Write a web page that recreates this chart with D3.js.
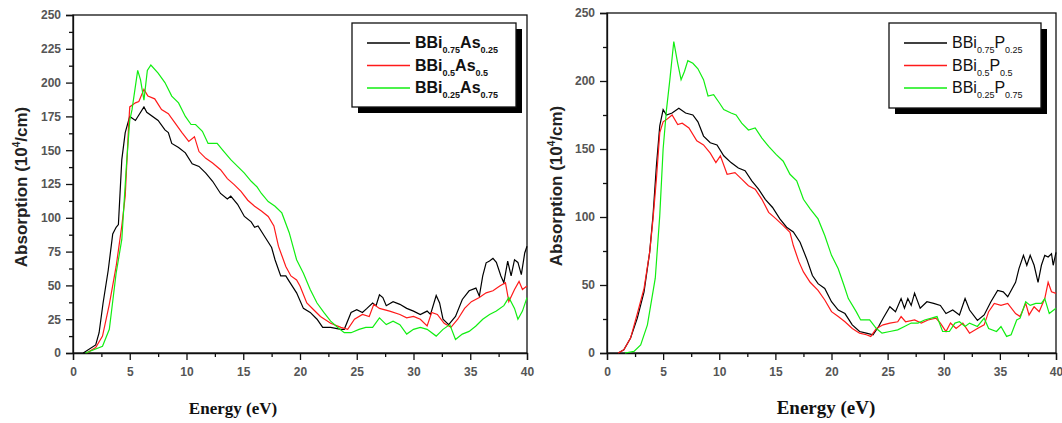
<!DOCTYPE html>
<html>
<head>
<meta charset="utf-8">
<script src="https://cdn.jsdelivr.net/npm/d3@7"></script>
<style>
  body { margin: 0; background: #fff; }
  svg { display: block; }
</style>
</head>
<body>
<div id="chart"></div>
<script>
// ---- left panel: BBi(1-x)As(x) ----
const eL_black = [0.9,2,2.3,2.65,3.1,3.5,3.8,4,4.3,4.6,4.9,5,5.5,6.25,6.5,7.5,8.1,8.4,8.7,9.3,9.9,10.5,11.1,11.7,12.3,13,13.6,13.9,14.5,15.1,15.7,16,16.3,16.9,17.5,17.8,18.3,18.75,19.05,19.7,20.3,20.9,21.5,22,22.7,23.6,23.9,24.5,25,25.5,25.9,26.4,26.7,27,27.3,27.6,28.2,28.8,29.4,30,30.6,31.2,31.5,32,32.3,32.6,33.1,33.7,34.3,34.9,35.5,35.8,36.1,36.4,36.7,37,37.3,37.7,37.96,38.3,38.6,38.9,39.2,39.5,39.8,40];
const aL_black = [0,6,15,37,61,88,93,95,143,163,172,175,172,182,178,172,165,163,155,152,148,140,138,133,127,118,114,116,110,101,97,93,94,86,78,69,57,57,53,44.5,33,30,25,19,19,17.5,17.5,30,32,30,33,37,35,43,41,35,38,36,33,31,28.5,31,28.5,42.5,37,25,21,27,39.6,46,48,42,57,66.7,68,70,67,57,52,68,57,69,67,58,74,79];
const eL_red = [1.2,2,2.6,3.2,3.8,4.3,4.6,4.9,5,5.5,5.8,6.25,6.6,7.2,7.8,8.4,9,9.6,10.2,10.7,11.1,11.7,12.3,13,13.6,14.2,14.8,15.4,16,16.6,17.2,17.7,18.1,18.75,19.2,19.7,20,20.6,21.2,21.8,22.7,23.6,24.2,24.8,25.5,26.1,26.5,27,27.9,28.8,29.4,30,30.6,31.2,31.6,32.1,32.7,33.3,33.9,34.5,35.1,35.8,36.4,37,37.6,38.1,38.4,38.9,39.3,39.6,40];
const aL_red = [0,4,12.5,36,64,94,116,168,182,185,186,195,190,188,180,177,170,163,156.5,160,149,144,140.5,135.6,129,124.5,119.6,113,108.5,105,101,94,79,64,57,54,49.5,37,32,27,22,19,17.5,25,28.5,27,36,33,31,28.5,26,27,25,20,30,28.5,22,19,25,33,38,41,44.5,46,49.5,52,38,47,53,47,49.5];
const eL_green = [1.1,2.6,3.2,3.8,4.3,4.7,5,5.2,5.7,5.95,6.25,6.55,6.86,7.5,8.1,8.7,9.3,9.9,10.4,10.8,11.4,11.9,12.7,13.3,13.9,14.5,15.1,15.7,16.2,16.6,17.2,17.8,18.4,19.05,19.7,20.3,20.9,21.5,22.1,22.7,23.3,23.9,24.5,25.2,25.8,26.4,27,27.6,28.2,28.8,29.4,30,30.6,31.2,32,32.6,33.2,33.7,34.3,34.9,35.5,36.1,36.7,37.3,37.96,38.4,38.9,39.2,39.6,40];
const aL_green = [0,5,17.5,59,84,138,172,180,209,202,187,209,213,207,200,190,185,175,169,169,164,155,155,149,143,138,133,127,123,118,112,108.5,103.6,89,69,59,47,37,30,23.6,19,15,15,17.5,19,19,26,21,23.6,21,14,17.5,19,17.5,12.5,17.5,21,10,14,16,20,25,28.5,31,35,41,33,25,31,41];

// ---- right panel: BBi(1-x)P(x) ----
const eR_black = [1,1.5,2.1,2.7,3.3,3.8,4.1,4.4,4.7,5,5.3,5.8,6.4,7,7.65,8.1,8.6,9.2,9.8,10.4,11.05,11.7,12.3,12.9,13.5,14.1,14.75,15.4,16,16.6,17.2,17.8,18.3,18.8,19.4,20,20.6,21.2,21.85,22.5,23.1,23.7,24.2,24.6,25.2,25.7,26.2,26.5,26.8,27.1,27.4,27.9,28.5,29.1,29.7,30.2,30.8,31.4,31.9,32.3,33,33.6,34.2,34.8,35.3,35.7,36.4,36.7,37.1,37.4,37.7,38.05,38.4,38.7,39,39.3,39.6,39.75,40];
const aR_black = [0,2.4,11,25.6,45,74,101,137.5,167,179,175,176.5,180,176.5,175,170,159.5,154.6,153,145,140,136,134,126.6,120.5,113,107,98.6,92.5,89,81.5,69,57,51,47.5,37.7,31.6,29,20.7,15.8,14.6,13.4,19.5,25.6,34,30.4,40,33,40,35,44,33,37.7,36.5,35,29,31.6,28,40,31.6,24,28,37.7,46,45,41.4,52,62,71.8,64.5,71.8,64.5,52,64.5,71.8,70.6,73,64.5,74];
const eR_red = [1,1.5,2.1,2.7,3.3,3.8,4.1,4.4,4.7,5,5.3,5.8,6.3,6.7,7.3,8,8.6,9.2,9.7,10.1,10.7,11.4,12,12.6,13.2,13.8,14.4,15.06,15.7,16.3,16.6,17.1,17.5,18.1,18.8,19.4,20,20.6,21.2,21.85,22.5,23.1,23.5,24,24.6,25.2,25.9,26.2,26.6,27.4,28,28.6,29.3,29.7,30.2,30.6,31.1,31.7,32.3,33,33.6,34,34.5,35.1,35.7,36.4,36.8,37.3,37.6,38.05,38.5,39,39.3,39.6,40];
const aR_red = [0,2.4,11,29,47.5,74,98.6,127.8,162,170,171.6,175,168,169,165.5,156,153,147,140,145,131.4,132.6,127.8,123,120.5,113,103.4,98.6,93.7,88.8,79,67,59.6,52,46,39,30.4,26.8,23,18,14.6,13.4,12.2,18,20.7,22,23,26.8,23,24.3,22,24.3,25.6,22,15.8,22,18,22,14.6,18,20.7,30.4,36.5,35,36.5,29,26.8,36.5,28,34,30.4,40,52,45,43.8];
const eR_green = [1.6,2.4,3,3.6,4.3,4.7,5,5.3,5.6,5.95,6.3,6.6,6.9,7.2,7.65,8.1,8.6,9,9.5,10,10.4,11.05,11.5,12,12.6,13.2,13.8,14.4,15.06,15.7,16.3,16.9,17.5,18.1,18.8,19.4,20,20.6,21.1,21.5,22.2,22.6,23.4,24,24.5,25.2,25.9,26.5,27.1,27.7,28.3,28.9,29.4,29.9,30.5,31,31.4,31.9,32.3,33,33.6,34,34.7,35.1,35.6,36,36.5,36.8,37.3,37.7,38.2,38.7,39,39.4,40];
const aR_green = [0,1.2,6,20.7,55,101,150,179,201,229,213,201,207,215,213,209,201,189,190,184,179,176.5,175,169,164,165.5,158,152,146,141,131.4,126.6,113,106,98.6,86.4,71.8,62,50,40,30.4,24.3,24.3,18,14.6,15.8,17,19.5,22,22,24.3,25.6,26.8,15.8,15.8,22,23,19.5,22,19.5,25.6,18,15.8,19.5,12.2,13.4,24.3,25.6,37.7,35,36.5,36.5,40,29,32.9];

const colors = ["#000000", "#ff1a1a", "#11ee11"];

const svg = d3.select("#chart").append("svg")
  .attr("width", 1062).attr("height", 423)
  .style("font-family", "'Liberation Sans', Arial, sans-serif");

function drawPanel(p) {
  const x = d3.scaleLinear().domain([0, 40]).range([p.left, p.right]);
  const y = d3.scaleLinear().domain([0, 250]).range([p.bottom, p.top]);
  const g = svg.append("g");

  /* minor ticks */
  g.append("g").attr("transform", `translate(0,${p.bottom})`)
    .call(d3.axisBottom(x).tickValues(d3.range(2.5, 40, 5)).tickSize(4).tickFormat(""))
    .call(a => a.select(".domain").remove());
  g.append("g").attr("transform", `translate(${p.left},0)`)
    .call(d3.axisLeft(y).tickValues(d3.range(p.yStep / 2, 250, p.yStep)).tickSize(4).tickFormat(""))
    .call(a => a.select(".domain").remove());

  /* major ticks */
  const xa = g.append("g").attr("transform", `translate(0,${p.bottom})`)
    .call(d3.axisBottom(x).tickValues(d3.range(0, 41, 5)).tickSize(7).tickPadding(7));
  const ya = g.append("g").attr("transform", `translate(${p.left},0)`)
    .call(d3.axisLeft(y).tickValues(d3.range(0, 251, p.yStep)).tickSize(7).tickPadding(5));
  [xa, ya].forEach(a => {
    a.selectAll("text").style("font-size", "12px").attr("fill", "#555").style("font-weight", "bold");
    a.select(".domain").attr("stroke", "#111").attr("stroke-width", 1.3);
  });
  g.selectAll(".tick line").attr("stroke", "#111").attr("stroke-width", 1.3);

  /* frame */
  g.append("rect")
    .attr("x", p.left).attr("y", p.top)
    .attr("width", p.right - p.left).attr("height", p.bottom - p.top)
    .attr("fill", "none").attr("stroke", "#111").attr("stroke-width", 1.3);

  /* curves */
  const line = d3.line().x(d => x(d[0])).y(d => y(d[1]));
  p.series.forEach((s, i) => {
    g.append("path")
      .datum(d3.zip(s.e, s.a))
      .attr("d", line)
      .attr("fill", "none")
      .attr("stroke", colors[i])
      .attr("stroke-width", 1.2);
  });

  /* axis titles */
  const yt = g.append("text")
    .attr("transform", `translate(${p.yTitleX},${(p.top + p.bottom) / 2 + 3}) rotate(-90)`)
    .attr("text-anchor", "middle")
    .attr("fill", "#222")
    .style("font-size", "17px").style("font-weight", "bold");
  yt.append("tspan").text("Absorption (10");
  yt.append("tspan").text("4").attr("dy", -7).style("font-size", "10px");
  yt.append("tspan").text("/cm)").attr("dy", 7);

  g.append("text")
    .attr("x", p.xTitleX).attr("y", 414)
    .attr("text-anchor", "middle")
    .attr("fill", "#111")
    .style("font-family", "'Liberation Serif', 'Times New Roman', serif")
    .style("font-size", p.xTitleSize + "px").style("font-weight", "bold")
    .text("Energy (eV)");

  /* legend */
  const L = p.legend;
  g.append("rect").attr("x", L.x + 6).attr("y", L.y + 6)
    .attr("width", L.w).attr("height", L.h).attr("fill", "#000");
  g.append("rect").attr("x", L.x).attr("y", L.y)
    .attr("width", L.w).attr("height", L.h)
    .attr("fill", "#fff").attr("stroke", "#111").attr("stroke-width", 1.3);
  p.series.forEach((s, i) => {
    const ly = L.y + 20 + i * 22.5;
    g.append("line")
      .attr("x1", L.x + 15).attr("x2", L.x + 58)
      .attr("y1", ly).attr("y2", ly)
      .attr("stroke", colors[i]).attr("stroke-width", 1.3);
    const t = g.append("text")
      .attr("x", L.x + 63).attr("y", ly + 5)
      .attr("fill", "#111")
      .style("font-size", L.size + "px").style("font-weight", L.weight);
    t.append("tspan").text("BBi");
    t.append("tspan").text(s.sub1).attr("dy", 5).style("font-size", "9px");
    t.append("tspan").text(s.el).attr("dy", -5);
    t.append("tspan").text(s.sub2).attr("dy", 5).style("font-size", "9px");
  });
}

drawPanel({
  left: 73, right: 527, top: 15, bottom: 353, yStep: 25,
  yTitleX: 27, xTitleX: 233, xTitleSize: 17,
  legend: { x: 352, y: 23, w: 164, h: 84, weight: "bold", size: 16 },
  series: [
    { e: eL_black, a: aL_black, sub1: "0.75", el: "As", sub2: "0.25" },
    { e: eL_red, a: aL_red, sub1: "0.5", el: "As", sub2: "0.5" },
    { e: eL_green, a: aL_green, sub1: "0.25", el: "As", sub2: "0.75" }
  ]
});

drawPanel({
  left: 607, right: 1056, top: 13, bottom: 353, yStep: 50,
  yTitleX: 562, xTitleX: 826, xTitleSize: 19,
  legend: { x: 889, y: 23, w: 152, h: 85, weight: "normal", size: 16 },
  series: [
    { e: eR_black, a: aR_black, sub1: "0.75", el: "P", sub2: "0.25" },
    { e: eR_red, a: aR_red, sub1: "0.5", el: "P", sub2: "0.5" },
    { e: eR_green, a: aR_green, sub1: "0.25", el: "P", sub2: "0.75" }
  ]
});
</script>
</body>
</html>
